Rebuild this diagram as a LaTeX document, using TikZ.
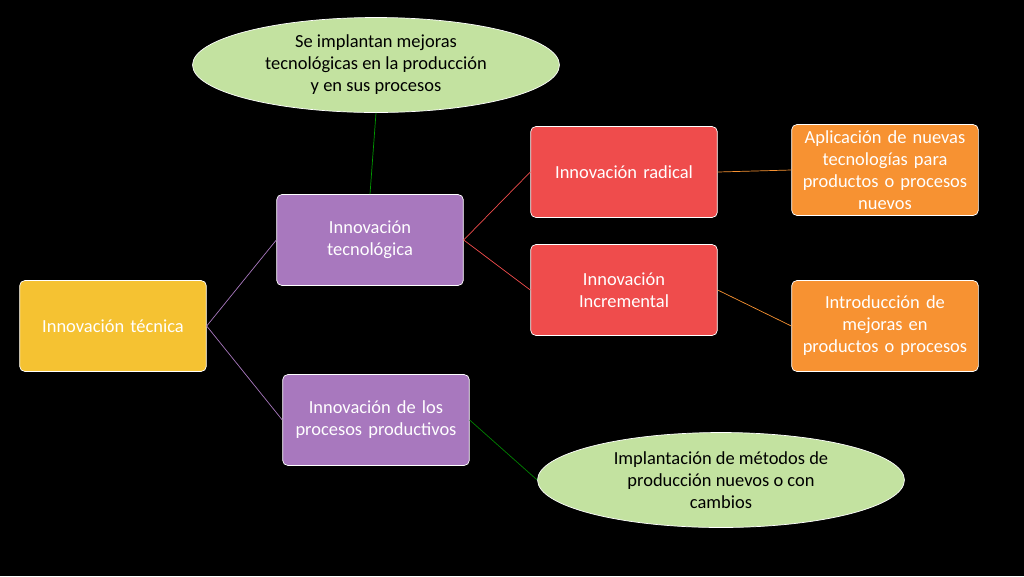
\documentclass[tikz,border=0pt]{standalone}
\usepackage{fontspec}
\setmainfont{Carlito}
\usetikzlibrary{shapes.geometric}
\usetikzlibrary{positioning}

\definecolor{boxyellow}{HTML}{F5C232}
\definecolor{boxpurple}{HTML}{A878BE}
\definecolor{boxred}{HTML}{EF4C4C}
\definecolor{boxorange}{HTML}{F79232}
\definecolor{ovalgreen}{HTML}{C3E2A0}

\begin{document}
\begin{tikzpicture}[x=0.02cm, y=-0.02cm,
    box/.style = {draw=white, rounded corners=3pt, text=white, align=center,
        minimum width=3.66cm, minimum height=1.82cm, text width=3.5cm,
        font=\fontsize{10.5}{12.5}\selectfont},
    oval/.style = {ellipse, draw=white, fill=ovalgreen, align=center,
        minimum width=7.34cm, minimum height=1.9cm, inner sep=0pt,
        font=\fontsize{10.5}{12.5}\selectfont},
    link/.style = {thin}]
    \fill[black] (0,0) rectangle (1024,576);
    \node [box, fill=boxyellow] (tecnica) at (113,326) {Innovación técnica};
    \node [box, fill=boxpurple] (tecno) at (370,240) {Innovación\\tecnológica};
    \node [box, fill=boxpurple] (procesos) at (376,420) {Innovación de los\\procesos productivos};
    \node [box, fill=boxred] (radical) at (624,172) {Innovación radical};
    \node [box, fill=boxred] (incremental) at (624,290) {Innovación\\Incremental};
    \node [box, fill=boxorange] (aplicacion) at (885,170) {Aplicación de nuevas\\tecnologías para\\productos o procesos\\nuevos};
    \node [box, fill=boxorange] (introduccion) at (885,326) {Introducción de\\mejoras en\\productos o procesos};
    \node [oval] (mejoras) at (376,65) {Se implantan mejoras\\tecnológicas en la producción\\y en sus procesos};
    \node [oval] (metodos) at (721,480) {Implantación de métodos de\\producción nuevos o con\\cambios};
    % connectors
    \draw [link, boxpurple] (tecnica.east) -- (tecno.west);
    \draw [link, boxpurple] (tecnica.east) -- (procesos.west);
    \draw [link, boxred] (tecno.east) -- (radical.west);
    \draw [link, boxred] (tecno.east) -- (incremental.west);
    \draw [link, boxorange] (radical.east) -- (aplicacion.west);
    \draw [link, boxorange] (incremental.east) -- (introduccion.west);
    \draw [link, green!60!black] (mejoras.south) -- (tecno.north);
    \draw [link, green!50!black] (procesos.east) -- (metodos.west);
\end{tikzpicture}
\end{document}
